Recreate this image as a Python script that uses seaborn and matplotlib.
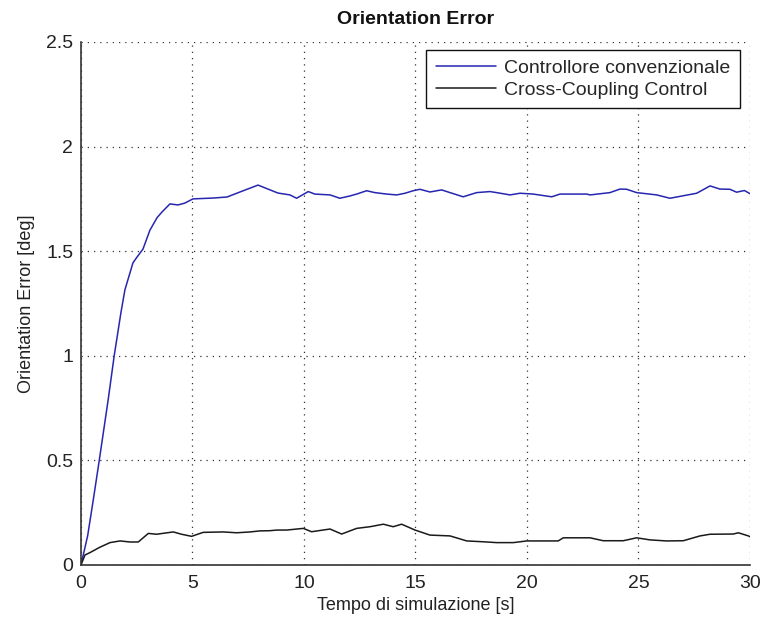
import numpy as np
import pandas as pd
import matplotlib
matplotlib.use("Agg")
import matplotlib.pyplot as plt
import seaborn as sns

# --- Data ---
t_conv = [0, 0.3, 0.55, 0.82, 1.22, 1.49, 1.79, 1.97, 2.33, 2.5, 2.78, 3.09, 3.41, 3.63, 3.99,
          4.35, 4.66, 5.02, 5.92, 6.55, 7.13, 7.94, 8.83, 9.37, 9.67, 10.19, 10.49, 11.17, 11.61,
          12.06, 12.36, 12.81, 13.18, 13.71, 14.16, 14.53, 14.9, 15.2, 15.65, 16.17, 16.55, 17.14,
          17.74, 18.34, 18.64, 19.24, 19.69, 20.28, 21.11, 21.48, 22.68, 22.83, 23.72, 24.17, 24.47,
          24.92, 25.82, 26.41, 27.01, 27.61, 28.21, 28.65, 29.1, 29.4, 29.75, 30.0]
v_conv = [0.0, 0.14, 0.31, 0.5, 0.79, 1.0, 1.205, 1.315, 1.444, 1.47, 1.51, 1.60, 1.66, 1.687, 1.726,
          1.721, 1.73, 1.75, 1.754, 1.759, 1.783, 1.816, 1.778, 1.769, 1.753, 1.785, 1.773, 1.769, 1.753,
          1.764, 1.773, 1.789, 1.78, 1.773, 1.769, 1.777, 1.789, 1.796, 1.783, 1.793, 1.78, 1.76,
          1.78, 1.785, 1.78, 1.769, 1.777, 1.773, 1.76, 1.773, 1.773, 1.769, 1.78, 1.797, 1.796,
          1.78, 1.769, 1.753, 1.765, 1.777, 1.812, 1.797, 1.796, 1.782, 1.79, 1.775]

t_ccc = [0, 0.03, 0.18, 0.4, 0.85, 1.3, 1.75, 2.2, 2.57, 3.02, 3.39, 4.14, 4.51, 4.96, 5.48, 6.38,
         6.98, 7.58, 8.03, 8.48, 8.78, 9.22, 9.97, 10.34, 11.17, 11.69, 12.36, 12.96, 13.56, 14.0,
         14.38, 14.98, 15.65, 16.55, 17.3, 18.04, 18.64, 19.39, 19.99, 21.4, 21.63, 22.83, 23.42,
         24.32, 24.92, 25.52, 26.26, 27.01, 27.76, 28.21, 29.25, 29.48, 29.93, 30.0]
v_ccc = [0.0, 0.008, 0.048, 0.059, 0.085, 0.107, 0.115, 0.11, 0.11, 0.151, 0.147, 0.158, 0.147, 0.137,
         0.156, 0.158, 0.154, 0.158, 0.163, 0.164, 0.167, 0.167, 0.175, 0.159, 0.172, 0.148, 0.175,
         0.183, 0.195, 0.183, 0.195, 0.167, 0.143, 0.139, 0.115, 0.111, 0.107, 0.107, 0.115, 0.115,
         0.13, 0.13, 0.116, 0.116, 0.13, 0.12, 0.115, 0.116, 0.139, 0.147, 0.148, 0.154, 0.139, 0.135]

labels = ["Controllore convenzionale", "Cross-Coupling Control"]
x_ticks = [0, 5, 10, 15, 20, 25, 30]
y_ticks = [0, 0.5, 1, 1.5, 2, 2.5]
y_tick_labels = ["0", "0.5", "1", "1.5", "2", "2.5"]

df = pd.concat([
    pd.DataFrame({"t": t_conv, "v": v_conv, "serie": labels[0]}),
    pd.DataFrame({"t": t_ccc, "v": v_ccc, "serie": labels[1]}),
], ignore_index=True)

sns.set_style("white")
plt.rcParams["font.family"] = ["Liberation Sans", "DejaVu Sans"]

fig = plt.figure(figsize=(7.61, 6.23), dpi=100)
ax = fig.add_axes([0.1064, 0.0931, 0.8791, 0.8395])

sns.lineplot(data=df, x="t", y="v", hue="serie", sort=False, estimator=None,
             palette={labels[0]: "#2626b0", labels[1]: "#1a1a1a"},
             linewidth=1.1, ax=ax)

ax.set_xlim(0, 30)
ax.set_ylim(0, 2.5)
ax.set_xticks(x_ticks)
ax.set_xticklabels([str(x) for x in x_ticks])
ax.set_yticks(y_ticks)
ax.set_yticklabels(y_tick_labels)
ax.tick_params(axis="both", direction="in", length=5, width=1, colors="#222222",
               labelsize=14, labelcolor="#222222")
ax.tick_params(axis="y", pad=5.5)
ax.tick_params(axis="x", pad=7)

ax.grid(True, linestyle=(0, (1, 4)), color="#333333", linewidth=0.9)
for s in ["top", "right"]:
    ax.spines[s].set_visible(False)
for s in ["left", "bottom"]:
    ax.spines[s].set_color("#333333")
    ax.spines[s].set_linewidth(1.2)

ax.set_xlabel("Tempo di simulazione [s]", fontsize=13, color="#222222", labelpad=4)
ax.set_ylabel("Orientation Error [deg]", fontsize=13, color="#222222", labelpad=8)
ax.set_title("Orientation Error", fontsize=14, fontweight="bold", color="#111111", pad=13)

leg = ax.legend(loc="upper right", bbox_to_anchor=(0.985, 0.985), fontsize=14,
                frameon=True, fancybox=False, handlelength=3.1, handletextpad=0.4,
                borderpad=0.5, labelspacing=0.2, borderaxespad=0.0)
leg.get_frame().set_edgecolor("#111111")
leg.get_frame().set_linewidth(1.0)
leg.get_frame().set_alpha(1)
for line in leg.get_lines():
    line.set_linewidth(1.1)

fig.savefig("out.png", dpi=100)
